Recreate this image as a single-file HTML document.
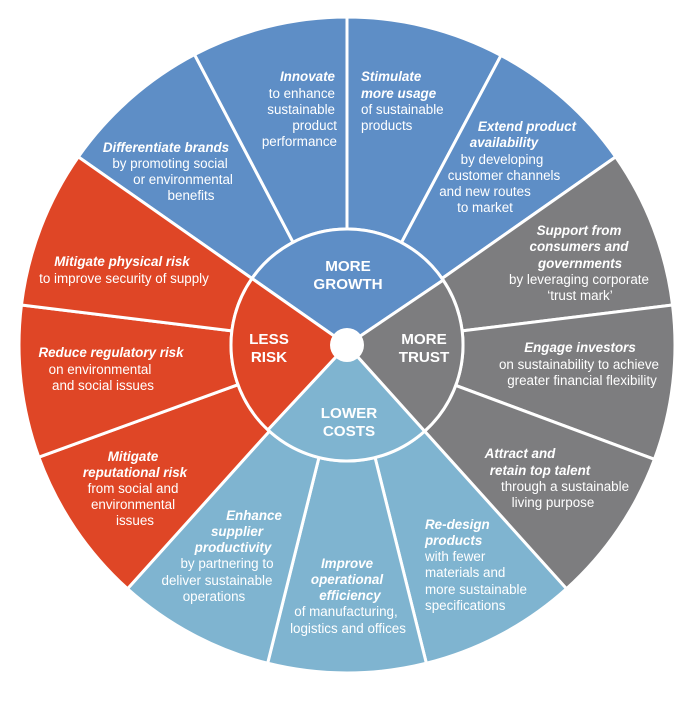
<!DOCTYPE html>
<html><head><meta charset="utf-8"><style>
html,body{margin:0;padding:0;background:#fff;width:696px;height:702px;overflow:hidden}
svg text{font-family:"Liberation Sans",Arial,sans-serif;fill:#fff;font-size:13.4px}
.b{font-weight:bold;font-style:italic}
.h{font-weight:bold;font-size:15.2px}
</style></head><body>
<svg id="s" width="696" height="702" viewBox="0 0 696 702">
<g id="sec"></g>
<g text-anchor="end">
<text x="335" y="81" class="b">Innovate</text>
<text x="335" y="98">to enhance</text>
<text x="335" y="114">sustainable</text>
<text x="337" y="130">product</text>
<text x="337" y="146">performance</text>
</g>
<g text-anchor="start">
<text x="361" y="81" class="b">Stimulate</text>
<text x="361" y="98" class="b">more usage</text>
<text x="361" y="114">of sustainable</text>
<text x="361" y="130">products</text>
<text x="425" y="529" class="b">Re-design</text>
<text x="425" y="545" class="b">products</text>
<text x="425" y="561">with fewer</text>
<text x="425" y="577">materials and</text>
<text x="425" y="594">more sustainable</text>
<text x="425" y="610">specifications</text>
</g>
<g text-anchor="middle">
<text x="527" y="131" class="b">Extend product</text>
<text x="504" y="147" class="b">availability</text>
<text x="502" y="164">by developing</text>
<text x="504" y="180">customer channels</text>
<text x="485" y="196">and new routes</text>
<text x="485" y="212">to market</text>
<text x="166" y="152" class="b">Differentiate brands</text>
<text x="170" y="168">by promoting social</text>
<text x="183" y="184">or environmental</text>
<text x="191" y="200">benefits</text>
<text x="122" y="266" class="b">Mitigate physical risk</text>
<text x="124" y="283">to improve security of supply</text>
<text x="111" y="357" class="b">Reduce regulatory risk</text>
<text x="100" y="374">on environmental</text>
<text x="103" y="390">and social issues</text>
<text x="133" y="461" class="b">Mitigate</text>
<text x="135" y="477" class="b">reputational risk</text>
<text x="133" y="493">from social and</text>
<text x="133" y="509">environmental</text>
<text x="135" y="525">issues</text>
<text x="254" y="520" class="b">Enhance</text>
<text x="237" y="536" class="b">supplier</text>
<text x="233" y="552" class="b">productivity</text>
<text x="227" y="568">by partnering to</text>
<text x="217" y="585">deliver sustainable</text>
<text x="214" y="601">operations</text>
<text x="347" y="568" class="b">Improve</text>
<text x="347" y="584" class="b">operational</text>
<text x="350" y="600" class="b">efficiency</text>
<text x="346" y="616">of manufacturing,</text>
<text x="348" y="633">logistics and offices</text>
<text x="520" y="458" class="b">Attract and</text>
<text x="540" y="475" class="b">retain top talent</text>
<text x="565" y="491">through a sustainable</text>
<text x="553" y="507">living purpose</text>
<text x="580" y="352" class="b">Engage investors</text>
<text x="579" y="369">on sustainability to achieve</text>
<text x="582" y="385">greater financial flexibility</text>
<text x="579" y="235" class="b">Support from</text>
<text x="579" y="251" class="b">consumers and</text>
<text x="580" y="268" class="b">governments</text>
<text x="579" y="284">by leveraging corporate</text>
<text x="580" y="300">‘trust mark’</text>
<text x="348" y="271" class="h">MORE</text>
<text x="348" y="289" class="h">GROWTH</text>
<text x="424" y="344" class="h">MORE</text>
<text x="424" y="362" class="h">TRUST</text>
<text x="269" y="344" class="h">LESS</text>
<text x="269" y="362" class="h">RISK</text>
<text x="349" y="418" class="h">LOWER</text>
<text x="349" y="436" class="h">COSTS</text>
</g>
</svg>
<script>
(function(){
var cx=347,cy=345,R=328,r=116,NS="http://www.w3.org/2000/svg";
var g=document.getElementById('sec');
function pt(a,rad){a=a*Math.PI/180;return [cx+rad*Math.cos(a),cy-rad*Math.sin(a)];}
function sector(a1,a2,r1,r2,col){
 var p1=pt(a1,r2),p2=pt(a2,r2),p3=pt(a2,r1),p4=pt(a1,r1);
 var large=(a1-a2)>180?1:0;
 var d="M"+p1+" A"+r2+","+r2+" 0 "+large+" 1 "+p2+" L"+p3+
  (r1>0?" A"+r1+","+r1+" 0 "+large+" 0 "+p4:"")+"Z";
 var e=document.createElementNS(NS,'path');
 e.setAttribute('d',d);e.setAttribute('fill',col);
 e.setAttribute('stroke','#fff');e.setAttribute('stroke-width','3');
 e.setAttribute('stroke-linejoin','round');
 g.appendChild(e);
}
var B='#5e8ec6',G='#7d7d7f',L='#7fb4d0',Rd='#df4626';
var outer=[[145,117.7,B],[117.7,90,B],[90,62,B],[62,35,B],
 [35,7,G],[7,-20.4,G],[-20.4,-48,G],
 [-48,-76,L],[-76,-104,L],[-104,-132,L],
 [-132,-160,Rd],[-160,-187,Rd],[-187,-215,Rd]];
outer.forEach(function(o){sector(o[0],o[1],r,R,o[2]);});
var inner=[[145,34,B],[34,-48,G],[-48,-133,L],[-133,-215,Rd]];
inner.forEach(function(o){sector(o[0],o[1],0,r,o[2]);});
var c=document.createElementNS(NS,'circle');
c.setAttribute('cx',cx);c.setAttribute('cy',cy);c.setAttribute('r',17);c.setAttribute('fill','#fff');
g.appendChild(c);
})();
</script>
</body></html>
